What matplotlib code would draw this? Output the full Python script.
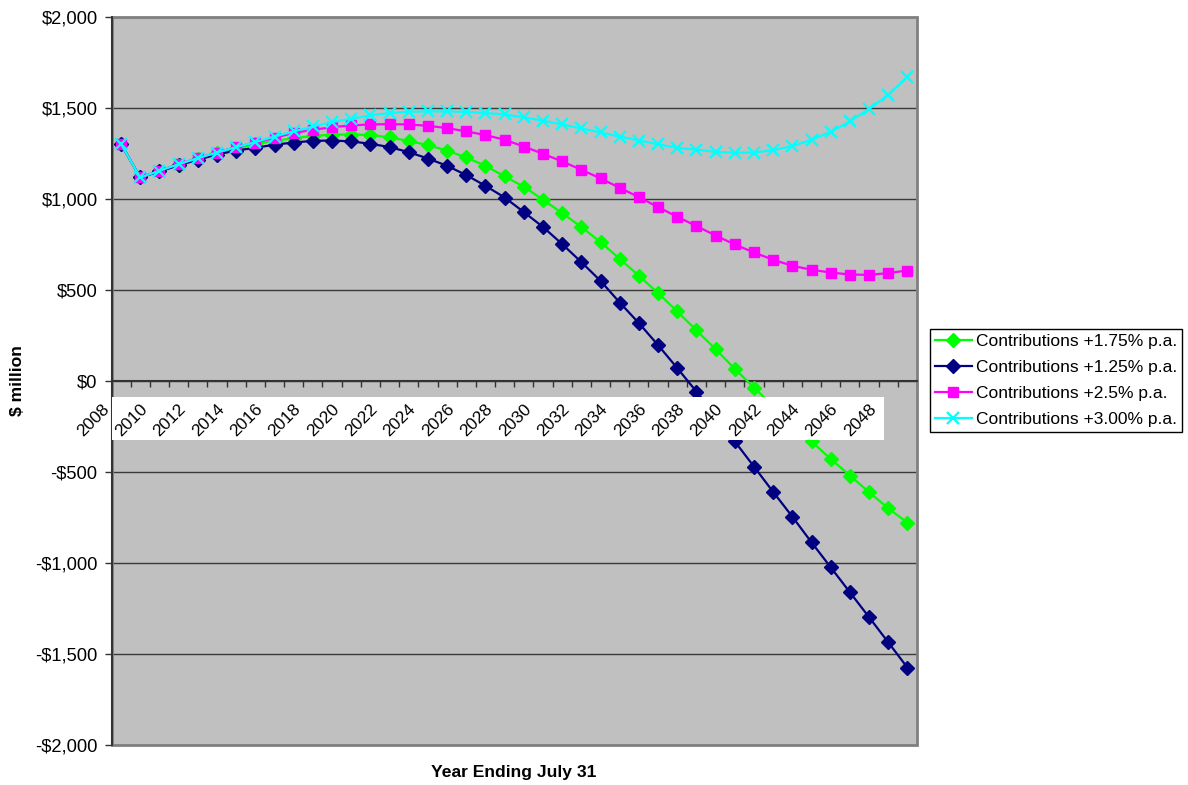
import matplotlib
matplotlib.use("Agg")
import matplotlib.pyplot as plt
from matplotlib.patches import Rectangle
from matplotlib.ticker import FuncFormatter

plt.rcParams['font.family'] = ['Liberation Sans', 'DejaVu Sans']
plt.rcParams['font.size'] = 12.6

# data ($ million, year ending July 31)
years = list(range(2008, 2050))
tick_years = list(range(2008, 2049, 2))

contrib_175 = [1300, 1117, 1152, 1188, 1220, 1250, 1276, 1300, 1318, 1333,
               1345, 1352, 1353, 1350, 1337, 1317, 1295, 1264, 1227, 1181,
               1123, 1066, 995, 921, 845, 762, 670, 577, 482, 381,
               277, 174, 66, -37, -138, -237, -333, -429, -520, -611,
               -700, -779]
contrib_125 = [1300, 1117, 1150, 1183, 1215, 1243, 1265, 1280, 1297, 1309,
               1318, 1320, 1315, 1302, 1284, 1256, 1221, 1181, 1130, 1071,
               1007, 927, 845, 751, 652, 549, 430, 317, 196, 70,
               -59, -195, -333, -471, -610, -746, -887, -1024, -1161, -1298,
               -1436, -1575]
contrib_250 = [1300, 1117, 1154, 1190, 1223, 1254, 1284, 1308, 1335, 1361,
               1379, 1393, 1403, 1408, 1410, 1408, 1401, 1388, 1370, 1350,
               1324, 1287, 1247, 1205, 1159, 1112, 1060, 1009, 954, 901,
               850, 798, 749, 705, 665, 632, 610, 595, 584, 582,
               592, 606]
contrib_300 = [1300, 1117, 1154, 1190, 1223, 1254, 1284, 1311, 1342, 1370,
               1397, 1421, 1440, 1458, 1471, 1478, 1480, 1480, 1477, 1471,
               1463, 1447, 1429, 1408, 1386, 1364, 1342, 1320, 1299, 1280,
               1269, 1258, 1253, 1254, 1267, 1289, 1324, 1368, 1425, 1493,
               1571, 1669]

labels = ['Contributions +1.75% p.a.', 'Contributions +1.25% p.a.',
          'Contributions +2.5% p.a.', 'Contributions +3.00% p.a.']

fig = plt.figure(figsize=(11.88, 7.85), dpi=100)
ax = fig.add_axes([111.5 / 1188, 1 - 745 / 785, (917 - 111.5) / 1188, (745 - 16.7) / 785])
ax.set_facecolor('#C0C0C0')

x = list(range(len(years)))
ax.plot(x, contrib_175, color='#00FF00', lw=1.6, marker='D', ms=7, label=labels[0], zorder=3)
ax.plot(x, contrib_125, color='#000080', lw=1.6, marker='D', ms=7, label=labels[1], zorder=3)
ax.plot(x, contrib_250, color='#FF00FF', lw=1.6, marker='s', ms=7.5, label=labels[2], zorder=3)
ax.plot(x, contrib_300, color='#00FFFF', lw=1.6, marker='x', ms=8, mew=1.6, label=labels[3], zorder=3)

ax.set_xlim(-0.5, len(years) - 0.5)
ax.set_ylim(-2000, 2000)

# value axis
ax.set_yticks(range(-2000, 2001, 500))
ax.yaxis.set_major_formatter(FuncFormatter(lambda v, p: ('-$' if v < 0 else '$') + f'{abs(int(v)):,}'))
ax.tick_params(axis='y', direction='out', length=5, width=1, pad=5, color='#333333',
               labelsize=13.2)
ax.grid(axis='y', color='#3a3a3a', lw=1)
ax.set_axisbelow(True)

# category axis crossing at zero, ticks between categories
ax.spines['bottom'].set_position(('data', 0))
ax.spines['bottom'].set_color('#333333')
ax.spines['bottom'].set_linewidth(1.5)
ax.spines['bottom'].set_zorder(2.5)
ax.set_xticks([i - 0.5 for i in range(len(years) + 1)])
ax.set_xticklabels([])
ax.tick_params(axis='x', direction='out', length=4, width=1, color='#333333')

ax.spines['top'].set_visible(False)
ax.spines['right'].set_visible(False)
ax.spines['left'].set_color('#333333')
ax.spines['left'].set_linewidth(1.5)
ax.add_patch(Rectangle((0, 0), 1, 1, transform=ax.transAxes, fill=False,
                       edgecolor='#808080', lw=2, clip_on=False, zorder=2))

# white band behind the year labels
ax.add_patch(Rectangle((-0.47, -324), 40.25, 238, facecolor='white',
                       edgecolor='none', zorder=4))
for yr in tick_years:
    i = years.index(yr)
    ax.text(i - 0.75, -140, str(yr), rotation=45, rotation_mode='anchor',
            ha='right', va='center', zorder=5, clip_on=False, fontsize=12.4)

fig.text(18 / 1188, 1 - 381 / 785, '$ million', rotation=90, fontweight='bold',
         ha='center', va='center')
fig.text(514 / 1188, 1 - 773 / 785, 'Year Ending July 31', fontweight='bold',
         ha='center', va='center')

leg = fig.legend(loc='center left', bbox_to_anchor=(930 / 1188, 1 - 380.5 / 785),
                 frameon=True, fancybox=False, edgecolor='black', framealpha=1,
                 handlelength=2.1, borderaxespad=0, labelspacing=0.62,
                 borderpad=0.3, handletextpad=0.25, fontsize=12.5)
leg.get_frame().set_linewidth(1)

fig.savefig('out.png', dpi=100)
